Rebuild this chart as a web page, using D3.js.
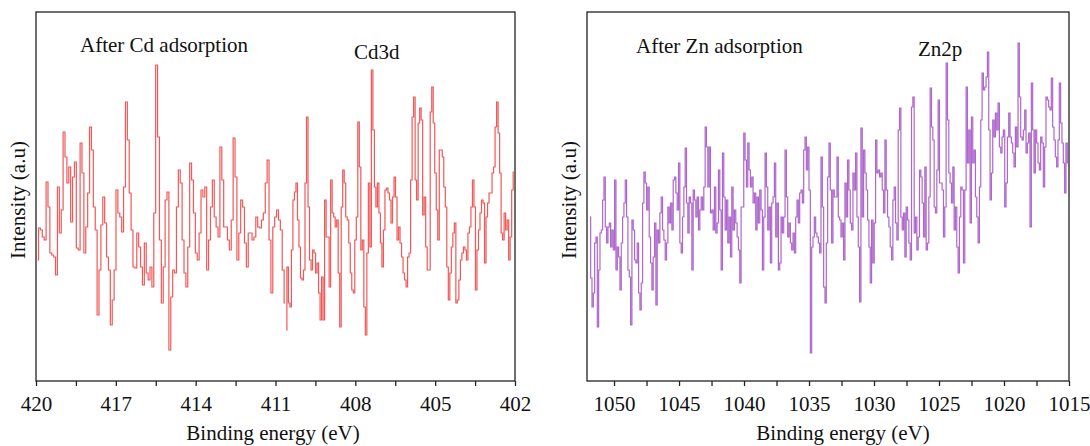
<!DOCTYPE html>
<html>
<head>
<meta charset="utf-8">
<script src="https://cdn.jsdelivr.net/npm/d3@7"></script>
<style>
  body { margin: 0; background: #fff; }
  text { font-family: "Liberation Serif", "DejaVu Serif", serif; fill: #111; }
</style>
</head>
<body>
<script>
// XPS spectra (intensity in arbitrary units)
// Cd3d scan, two blocks: each block is evenly spaced between its start and end energy
const cdRangeA = [419.94, 410.64];
const cdIntensityA = [
  121,153,151,144,141,199,174,128,126,124,
  106,194,148,171,249,224,198,214,159,204,
  219,133,131,238,208,128,154,188,254,231,
  174,151,66,111,156,184,158,124,111,56,
  81,111,191,168,164,149,194,279,241,188,
  151,114,113,148,134,114,96,138,108,101,
  114,94,168,316,244,141,78,114,181,189,
  31,84,111,108,174,211,198,141,108,94,
  134,218,201,168,128,121,148,191,184,194,
  111,141,174,201,164,154,144,234,201,154,
  154,141,131,161,243,204,121,148,181,174,
  138,114,148,148,141,144,164,154,153,161,
  168,198,221,141,88,154,164,171,161,151,
  111,78
];
const cdRangeB = [410.60, 402.04];
const cdIntensityB = [
  51,114,78,74,131,181,189,198,161,134,
  103,101,111,198,264,174,121,111,131,128,
  108,118,88,61,104,61,181,144,144,94,
  201,168,164,154,161,108,54,174,211,198,
  164,161,138,108,91,88,141,164,259,214,
  131,141,74,46,128,198,134,311,251,194,
  174,198,168,138,114,151,191,193,188,181,
  158,184,204,184,141,154,138,124,108,101,
  94,124,128,201,264,284,201,181,258,273,
  261,166,184,134,111,111,269,294,258,208,
  171,141,231,231,224,194,174,114,81,108,
  134,148,158,78,81,101,121,128,134,131,
  121,148,154,174,201,174,91,131,151,168,
  181,178,118,164,178,188,188,208,214,254,
  279,248,208,148,141,168,151,161,121,144,
  191,209
];

// Zn2p scan, evenly spaced between start and end energy
const znRange = [1051.85, 1015.08];
const znIntensity = [
  164,103,74,88,138,144,54,111,148,151,
  181,204,154,138,154,158,134,151,131,201,
  111,134,124,91,138,164,178,201,164,111,
  104,56,161,151,121,118,138,88,71,98,
  178,209,198,171,194,144,118,91,124,158,
  76,151,138,168,184,151,141,121,138,174,
  158,178,151,201,204,188,171,218,138,128,
  164,194,233,178,148,184,178,111,191,181,
  164,184,151,171,184,171,194,254,234,194,
  234,168,171,151,194,148,158,211,171,111,
  228,184,151,181,138,164,124,194,151,171,
  158,144,131,98,174,174,248,221,194,238,
  211,194,204,178,188,151,184,158,191,171,
  111,164,228,194,151,174,118,178,184,218,
  144,178,111,118,164,148,164,231,184,144,
  158,138,131,148,128,164,181,158,188,191,
  178,231,244,211,234,191,28,134,144,164,
  148,144,138,128,224,174,94,78,138,204,
  238,
  191,138,191,184,184,224,164,161,144,158,
  121,198,164,221,191,158,151,208,191,228,
  164,134,79,253,164,231,208,191,161,134,
  98,161,118,158,241,208,211,204,208,191,
  168,241,191,164,154,134,121,181,194,158,
  141,251,273,164,151,168,124,174,161,138,
  121,274,284,148,164,131,144,211,204,178,
  144,214,131,138,184,293,254,241,174,168,
  211,281,198,198,191,144,174,318,261,208,
  198,178,214,151,174,134,108,164,194,191,
  118,191,294,218,251,158,264,218,231,184,
  164,138,194,261,308,291,294,304,329,251,
  181,208,261,244,268,251,278,234,228,244,
  251,174,198,244,268,244,238,228,214,254,
  234,338,284,244,241,251,271,228,238,248,
  154,298,251,208,251,238,218,211,244,238,
  194,234,284,281,274,271,303,254,241,224,
  214,241,298,258,238,218,188,238,218
];

const cdTicks = [420, 417, 414, 411, 408, 405, 402];
const cdMinor = [418.5, 415.5, 412.5, 409.5, 406.5, 403.5];
const znTicks = [1050, 1045, 1040, 1035, 1030, 1025, 1020, 1015];
const znMinor = [1047.5, 1042.5, 1037.5, 1032.5, 1027.5, 1022.5, 1017.5];

const width = 1090;
const height = 446;

function toPoints(values, range) {
  const n = values.length;
  return values.map((v, i) => ({ e: range[0] + (range[1] - range[0]) * i / (n - 1), v: v }));
}

const svg = d3.select('body').append('svg')
    .attr('width', width)
    .attr('height', height);

function drawPanel(p) {
  const x = d3.scaleLinear().domain(p.domain).range([p.left, p.right]);
  const y = d3.scaleLinear().domain([0, 369]).range([381, 12]);
  const g = svg.append('g');

  const line = d3.line()
      .x(d => x(d.e))
      .y(d => y(d.v))
      .curve(d3.curveStep);

  p.series.forEach(s => {
    g.append('path')
        .attr('d', line(s))
        .attr('fill', 'none')
        .attr('stroke', p.color)
        .attr('stroke-width', 1.2)
        .attr('stroke-opacity', 0.85);
  });

  // frame
  g.append('rect')
      .attr('x', p.left)
      .attr('y', 12)
      .attr('width', p.right - p.left)
      .attr('height', 369)
      .attr('fill', 'none')
      .attr('stroke', '#222')
      .attr('stroke-width', 1.3);

  const allTicks = p.ticks.concat(p.minor);
  const xAxis = d3.axisBottom(x)
      .tickValues(allTicks)
      .tickFormat(d => p.ticks.includes(d) ? d : '')
      .tickSize(5)
      .tickSizeOuter(0);

  const ax = g.append('g')
      .attr('transform', `translate(0,381)`)
      .call(xAxis);
  ax.select('.domain').remove();
  ax.selectAll('line').attr('stroke', '#222').attr('stroke-width', 1.3);
  ax.selectAll('text')
      .attr('y', 15)
      .style('font-size', '21px')
      .style('font-family', '"Liberation Serif", serif')
      .attr('fill', '#111');

  g.append('text')
      .attr('text-anchor', 'middle')
      .attr('x', p.xLabelX)
      .attr('y', 440)
      .style('font-size', '21px')
      .text('Binding energy (eV)');

  g.append('text')
      .attr('text-anchor', 'middle')
      .attr('transform', `translate(${p.yLabelX},200) rotate(-90)`)
      .style('font-size', '21px')
      .text('Intensity (a.u)');

  g.append('text')
      .attr('x', p.title[1])
      .attr('y', p.title[2])
      .style('font-size', '21px')
      .text(p.title[0]);

  g.append('text')
      .attr('x', p.peak[1])
      .attr('y', p.peak[2])
      .style('font-size', '21px')
      .text(p.peak[0]);
}

drawPanel({
  domain: [420, 402], left: 36, right: 515,
  ticks: cdTicks, minor: cdMinor,
  series: [toPoints(cdIntensityA, cdRangeA), toPoints(cdIntensityB, cdRangeB)],
  color: '#ef3b3b',
  xLabelX: 273, yLabelX: 25,
  title: ['After Cd adsorption', 80, 52],
  peak: ['Cd3d', 354, 59]
});

drawPanel({
  domain: [1052.08, 1015], left: 587, right: 1069,
  ticks: znTicks, minor: znMinor,
  series: [toPoints(znIntensity, znRange)],
  color: '#a04cc4',
  xLabelX: 843, yLabelX: 576,
  title: ['After Zn adsorption', 636, 53],
  peak: ['Zn2p', 918, 56]
});
</script>
</body>
</html>
